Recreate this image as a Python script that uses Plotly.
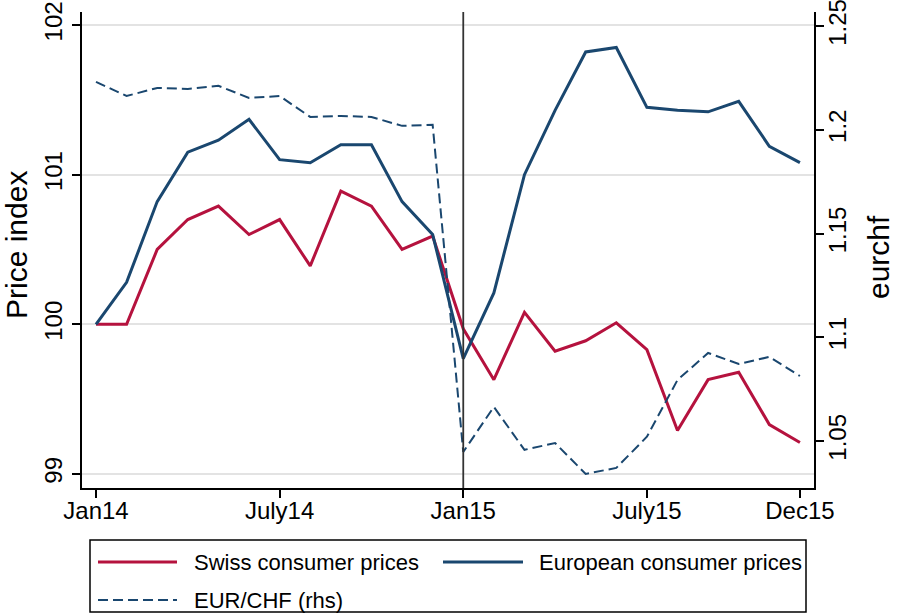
import plotly.graph_objects as go

# ---------------- data ----------------
months = list(range(24))  # Jan14 ... Dec15
tick_pos = [0, 6, 12, 18, 23]
tick_labels = ["Jan14", "July14", "Jan15", "July15", "Dec15"]

swiss = [100.00, 100.00, 100.50, 100.70, 100.79, 100.60, 100.70, 100.39, 100.89, 100.79,
         100.50, 100.59, 99.97, 99.63, 100.08, 99.82, 99.89, 100.01, 99.83, 99.29,
         99.63, 99.68, 99.33, 99.21]
european = [100.00, 100.28, 100.82, 101.15, 101.23, 101.37, 101.10, 101.08, 101.20, 101.20,
            100.82, 100.60, 99.77, 100.21, 101.00, 101.43, 101.82, 101.85, 101.45, 101.43,
            101.42, 101.49, 101.19, 101.08]
eurchf = [1.2231, 1.2163, 1.2202, 1.2197, 1.2212, 1.2154, 1.2163, 1.2062, 1.2067, 1.2062,
          1.2019, 1.2024, 1.0447, 1.0664, 1.0457, 1.0490, 1.0341, 1.0370, 1.0520, 1.0794,
          1.0924, 1.0871, 1.0905, 1.0813]

left_ticks = [99, 100, 101, 102]
right_ticks = [1.05, 1.1, 1.15, 1.2, 1.25]
right_tick_labels = ["1.05", "1.1", "1.15", "1.2", "1.25"]
event_month = 12  # Jan15

left_title = "Price index"
right_title = "eurchf"
legend_labels = ["Swiss consumer prices", "European consumer prices", "EUR/CHF (rhs)"]

RED = "#b5123e"
NAVY = "#1a476f"
FONT = "Liberation Sans, Arial, sans-serif"

W, H = 898, 614
L, R, T, B = 82, 814, 12, 488  # plot area in pixels

fig = go.Figure()
fig.add_trace(go.Scatter(x=months, y=swiss, mode="lines", name=legend_labels[0],
                         line=dict(color=RED, width=3), yaxis="y"))
fig.add_trace(go.Scatter(x=months, y=european, mode="lines", name=legend_labels[1],
                         line=dict(color=NAVY, width=3), yaxis="y"))
fig.add_trace(go.Scatter(x=months, y=eurchf, mode="lines", name=legend_labels[2],
                         line=dict(color=NAVY, width=2, dash="10px,5px"), yaxis="y2"))

def px(xp):
    return (xp - L) / (R - L)

def py(yp):
    return (B - yp) / (B - T)

shapes = [
    dict(type="line", xref="x", yref="paper", x0=event_month, x1=event_month, y0=0, y1=1,
         line=dict(color="#333333", width=1.8), layer="above"),
    # legend box
    dict(type="rect", xref="paper", yref="paper", x0=px(90), x1=px(806), y0=py(612), y1=py(540),
         line=dict(color="black", width=1.5), fillcolor="white"),
    dict(type="line", xref="paper", yref="paper", x0=px(98), x1=px(177), y0=py(562), y1=py(562),
         line=dict(color=RED, width=3)),
    dict(type="line", xref="paper", yref="paper", x0=px(443), x1=px(523), y0=py(562), y1=py(562),
         line=dict(color=NAVY, width=3)),
    dict(type="line", xref="paper", yref="paper", x0=px(98), x1=px(177), y0=py(600), y1=py(600),
         line=dict(color=NAVY, width=2, dash="10px,5px")),
]

annotations = [
    dict(xref="paper", yref="paper", x=px(192), y=py(562), text=legend_labels[0], showarrow=False,
         xanchor="left", yanchor="middle", font=dict(size=22, color="black", family=FONT)),
    dict(xref="paper", yref="paper", x=px(537), y=py(562), text=legend_labels[1], showarrow=False,
         xanchor="left", yanchor="middle", font=dict(size=22, color="black", family=FONT)),
    dict(xref="paper", yref="paper", x=px(192), y=py(600), text=legend_labels[2], showarrow=False,
         xanchor="left", yanchor="middle", font=dict(size=22, color="black", family=FONT)),
    # axis titles
    dict(xref="paper", yref="paper", x=px(16), y=py(245), text=left_title, showarrow=False,
         textangle=-90, xanchor="center", yanchor="middle",
         font=dict(size=30, color="black", family=FONT)),
    dict(xref="paper", yref="paper", x=px(878), y=py(257), text=right_title, showarrow=False,
         textangle=-90, xanchor="center", yanchor="middle",
         font=dict(size=30, color="black", family=FONT)),
]

fig.update_layout(
    width=W, height=H,
    margin=dict(l=L, r=W - R, t=T, b=H - B, pad=0, autoexpand=False),
    paper_bgcolor="white", plot_bgcolor="white",
    font=dict(family=FONT, size=24, color="black"),
    showlegend=False,
    shapes=shapes,
    annotations=annotations,
    xaxis=dict(
        range=[-0.457, 23.46], tickvals=tick_pos, ticktext=tick_labels, automargin=False,
        showgrid=False, zeroline=False, showline=True, linecolor="black", linewidth=1.5,
        ticks="outside", ticklen=8, tickwidth=1.5, tickcolor="black",
        tickfont=dict(size=24), ticklabelstandoff=-8, ticklabeloverflow="allow",
    ),
    yaxis=dict(
        range=[98.906, 102.087], tickvals=left_ticks, tickangle=-90, automargin=False,
        showgrid=True, gridcolor="#e3e3e3", gridwidth=1.5, zeroline=False,
        showline=True, linecolor="black", linewidth=1.5,
        ticks="outside", ticklen=8, tickwidth=1.5, tickcolor="black",
        tickfont=dict(size=24), ticklabelstandoff=1, ticklabeloverflow="allow",
    ),
    yaxis2=dict(
        range=[1.0273, 1.2568], tickvals=right_ticks, ticktext=right_tick_labels, tickangle=-90,
        overlaying="y", side="right", showgrid=False, zeroline=False, automargin=False,
        showline=True, linecolor="black", linewidth=1.5,
        ticks="outside", ticklen=8, tickwidth=1.5, tickcolor="black",
        tickfont=dict(size=24), ticklabelstandoff=-7, ticklabeloverflow="allow",
    ),
)

fig.write_html("out.html", config={"displayModeBar": False},
               post_script="document.body.style.margin='0px';document.body.style.overflow='hidden';")
